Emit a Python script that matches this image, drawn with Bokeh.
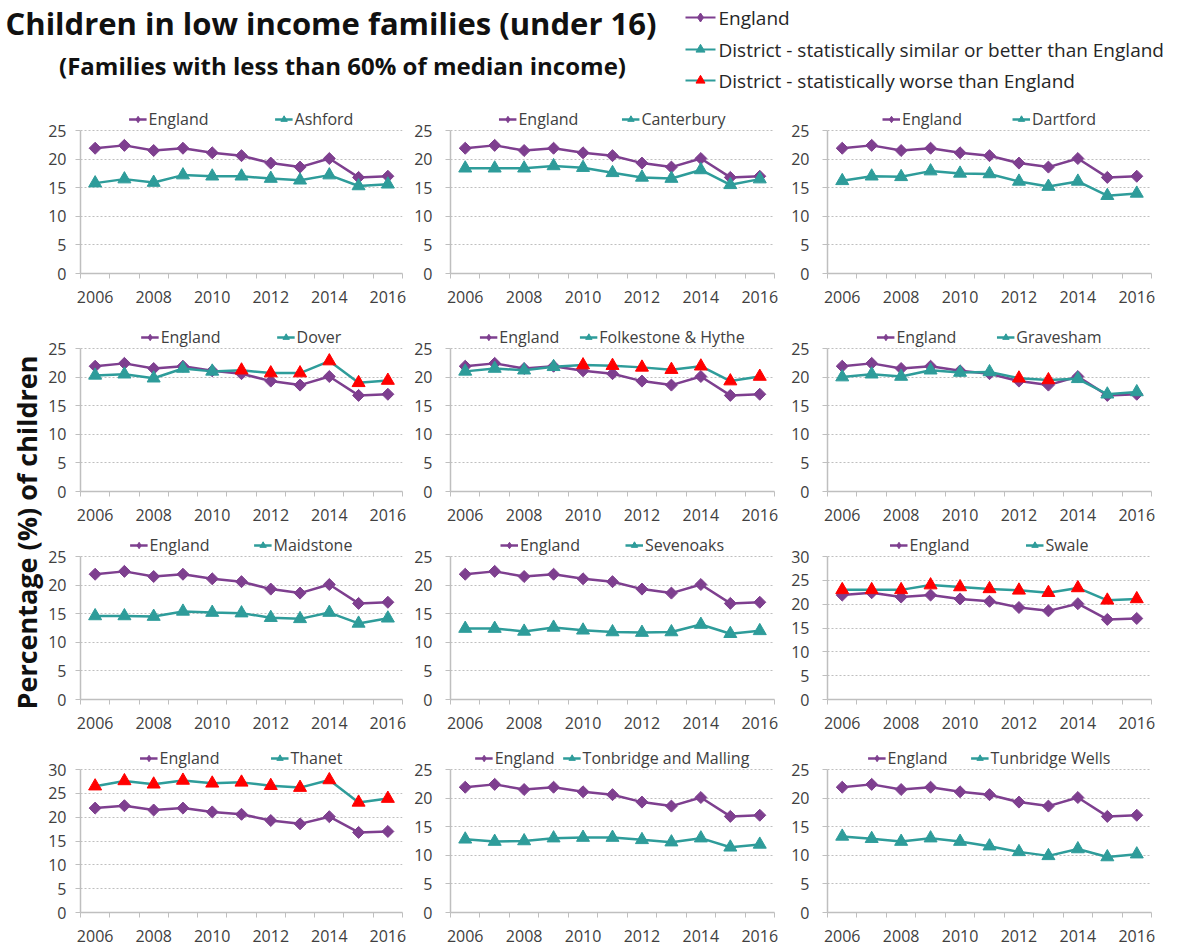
import numpy as np
from bokeh.plotting import figure
from bokeh.models import Range1d, FixedTicker, Legend, LegendItem
from bokeh.layouts import column, row
from bokeh.embed import file_html
from bokeh.resources import INLINE
from bokeh.core.properties import value

# ---------------- data ----------------
years = [2006, 2007, 2008, 2009, 2010, 2011, 2012, 2013, 2014, 2015, 2016]
year_labels = [2006, 2008, 2010, 2012, 2014, 2016]

england = [21.9, 22.4, 21.5, 21.9, 21.1, 20.6, 19.3, 18.6, 20.1, 16.8, 17.0]

districts = ["Ashford", "Canterbury", "Dartford",
             "Dover", "Folkestone & Hythe", "Gravesham",
             "Maidstone", "Sevenoaks", "Swale",
             "Thanet", "Tonbridge and Malling", "Tunbridge Wells"]

ashford = [15.8, 16.5, 15.9, 17.2, 17.0, 17.0, 16.6, 16.3, 17.2, 15.3, 15.6]
canterbury = [18.4, 18.4, 18.4, 18.8, 18.5, 17.6, 16.8, 16.6, 18.1, 15.5, 16.5]
dartford = [16.2, 17.0, 16.9, 17.9, 17.5, 17.4, 16.1, 15.2, 16.1, 13.6, 14.0]
dover = [20.3, 20.5, 19.8, 21.5, 21.0, 21.2, 20.7, 20.7, 22.8, 19.0, 19.4]
folkestone = [21.0, 21.5, 21.2, 21.8, 22.1, 22.0, 21.7, 21.3, 21.9, 19.3, 20.1]
gravesham = [20.0, 20.5, 20.1, 21.2, 20.8, 20.9, 19.8, 19.5, 19.7, 17.0, 17.4]
maidstone = [14.6, 14.6, 14.5, 15.4, 15.2, 15.1, 14.3, 14.1, 15.2, 13.3, 14.2]
sevenoaks = [12.4, 12.4, 11.9, 12.6, 12.1, 11.8, 11.7, 11.8, 13.1, 11.5, 12.0]
swale = [23.0, 23.0, 23.0, 24.0, 23.6, 23.2, 22.9, 22.4, 23.4, 20.8, 21.1]
thanet = [26.5, 27.6, 26.9, 27.7, 27.1, 27.3, 26.6, 26.2, 27.8, 23.1, 23.9]
tonbridge = [12.8, 12.4, 12.5, 13.0, 13.1, 13.1, 12.7, 12.3, 13.0, 11.4, 11.9]
tunbridge_wells = [13.3, 12.9, 12.4, 13.0, 12.4, 11.6, 10.6, 9.9, 11.1, 9.7, 10.2]

# 1 = statistically worse than England
ashford_worse = [0, 0, 0, 0, 0, 0, 0, 0, 0, 0, 0]
canterbury_worse = [0, 0, 0, 0, 0, 0, 0, 0, 0, 0, 0]
dartford_worse = [0, 0, 0, 0, 0, 0, 0, 0, 0, 0, 0]
dover_worse = [0, 0, 0, 0, 0, 1, 1, 1, 1, 1, 1]
folkestone_worse = [0, 0, 0, 0, 1, 1, 1, 1, 1, 1, 1]
gravesham_worse = [0, 0, 0, 0, 0, 0, 1, 1, 0, 0, 0]
maidstone_worse = [0, 0, 0, 0, 0, 0, 0, 0, 0, 0, 0]
sevenoaks_worse = [0, 0, 0, 0, 0, 0, 0, 0, 0, 0, 0]
swale_worse = [1, 1, 1, 1, 1, 1, 1, 1, 1, 1, 1]
thanet_worse = [1, 1, 1, 1, 1, 1, 1, 1, 1, 1, 1]
tonbridge_worse = [0, 0, 0, 0, 0, 0, 0, 0, 0, 0, 0]
tunbridge_wells_worse = [0, 0, 0, 0, 0, 0, 0, 0, 0, 0, 0]

district_values = [ashford, canterbury, dartford, dover, folkestone, gravesham,
                   maidstone, sevenoaks, swale, thanet, tonbridge, tunbridge_wells]
district_worse = [ashford_worse, canterbury_worse, dartford_worse, dover_worse,
                  folkestone_worse, gravesham_worse, maidstone_worse, sevenoaks_worse,
                  swale_worse, thanet_worse, tonbridge_worse, tunbridge_wells_worse]
y_max = [25, 25, 25, 25, 25, 25, 25, 25, 30, 30, 25, 25]

title = "Children in low income families (under 16)"
subtitle = "(Families with less than 60% of median income)"
y_title = "Percentage (%) of children"
legend_labels = ["England",
                 "District - statistically similar or better than England",
                 "District - statistically worse than England"]

# ---------------- style ----------------
FONT = "Open Sans"
PURPLE = "#7E3F8F"
TEAL = "#2E9C9A"
RED = "#FF0000"
AXIS = "#BFBFBF"
GRID = "#BFBFBF"
TXT = "#404040"

FW, FH = 324, 143
EXT = 24                      # room above the top gridline for the panel legend
YLAB_W = 45
COL_L = [33, 43, 48]
COL_R = [5, 5, 5]
COL_STANDOFF = [9, 13, 13]
ROW_T = [34, 41, 31, 36]      # figure top -> top gridline
ROW_B = [34, 34, 34, 33]
LEG_SPACING = [66, 43, 50, 56, 20, 40, 44, 45, 56, 51, 8, 23]
HEADER_H = 96
TOTAL_W = 1170


def make_panel(i):
    c, r = i % 3, i // 3
    L, R, T, B = COL_L[c], COL_R[c], ROW_T[r] - EXT, ROW_B[r]
    ymax = y_max[i]
    p = figure(width=L + FW + R, height=T + FH + EXT + B,
               x_range=Range1d(2005.5, 2016.5),
               y_range=Range1d(0, ymax * (FH + EXT) / FH),
               output_backend="svg", toolbar_location=None,
               min_border_left=L, min_border_right=R,
               min_border_top=T, min_border_bottom=B)
    p.outline_line_color = None
    p.background_fill_color = "white"
    p.border_fill_color = "white"
    p.xgrid.visible = False
    p.ygrid.grid_line_color = GRID
    p.ygrid.grid_line_dash = "2 2"
    p.ygrid.grid_line_width = 1

    p.xaxis.ticker = FixedTicker(ticks=year_labels,
                                 minor_ticks=[y - 0.5 for y in years] + [years[-1] + 0.5])
    p.xaxis.major_tick_line_color = None
    p.xaxis.major_tick_out = 0
    p.xaxis.major_tick_in = 0
    p.xaxis.minor_tick_out = 5
    p.xaxis.minor_tick_in = 0
    p.xaxis.minor_tick_line_color = AXIS
    p.xaxis.major_label_standoff = 12

    p.yaxis.ticker = FixedTicker(ticks=list(range(0, ymax + 1, 5)))
    p.yaxis.bounds = (0, ymax)
    p.yaxis.minor_tick_line_color = None
    p.yaxis.major_tick_out = 5
    p.yaxis.major_tick_in = 0
    p.yaxis.major_tick_line_color = AXIS
    p.yaxis.major_label_standoff = COL_STANDOFF[c]

    for ax in (p.xaxis[0], p.yaxis[0]):
        ax.axis_line_color = AXIS
        ax.axis_line_width = 1.5
        ax.major_label_text_font = FONT
        ax.major_label_text_font_size = "16px"
        ax.major_label_text_color = TXT

    vals = district_values[i]
    worse = district_worse[i]

    le = p.line(years, england, line_color=PURPLE, line_width=2.5)
    p.scatter(years, england, marker="square", angle=np.pi / 4, size=8.5,
              fill_color=PURPLE, line_color=PURPLE)
    leg_dia = p.scatter([years[0]], [england[0]], marker="diamond", size=9,
                        fill_color=PURPLE, line_color=PURPLE, visible=False)

    ld = p.line(years, vals, line_color=TEAL, line_width=2.5)
    tx = [y for y, w in zip(years, worse) if not w]
    ty = [v for v, w in zip(vals, worse) if not w]
    rx = [y for y, w in zip(years, worse) if w]
    ry = [v for v, w in zip(vals, worse) if w]
    p.scatter(tx, ty, marker="triangle", size=13, fill_color=TEAL, line_color=TEAL)
    p.scatter(rx, ry, marker="triangle", size=13, fill_color=RED, line_color=RED)
    leg_tri = p.scatter([years[0]], [vals[0]], marker="triangle", size=9,
                        fill_color=TEAL, line_color=TEAL, visible=False)

    legend = Legend(items=[LegendItem(label="England", renderers=[le, leg_dia]),
                           LegendItem(label=districts[i], renderers=[ld, leg_tri])],
                    orientation="horizontal", location="top_center",
                    label_text_font=FONT, label_text_font_size="16px",
                    label_text_color=TXT, glyph_width=18, glyph_height=16,
                    label_height=18, label_standoff=2, spacing=LEG_SPACING[i],
                    padding=0, margin=2, border_line_color=None,
                    background_fill_alpha=0)
    p.add_layout(legend)
    return p


# ---------------- header ----------------
hdr = figure(width=TOTAL_W, height=HEADER_H, x_range=Range1d(0, TOTAL_W),
             y_range=Range1d(HEADER_H, 0), output_backend="svg", toolbar_location=None,
             min_border=0)
hdr.axis.visible = False
hdr.grid.visible = False
hdr.outline_line_color = None

hdr.text(x=[5], y=[22], text=[title], text_font=value(FONT), text_font_style="bold",
         text_font_size="31px", text_baseline="middle", text_align="left", text_color="#111111")
hdr.text(x=[342], y=[65], text=[subtitle], text_font=value(FONT), text_font_style="bold",
         text_font_size="24px", text_baseline="middle", text_align="center", text_color="#111111")

leg_y = [17, 49, 80]
line_cols = [PURPLE, TEAL, TEAL]
mark_cols = [PURPLE, TEAL, RED]
hdr.segment(x0=[685] * 3, x1=[715] * 3, y0=leg_y, y1=leg_y, line_color=line_cols, line_width=2)
hdr.scatter([700], [leg_y[0]], marker="diamond", size=9, fill_color=PURPLE, line_color=PURPLE)
hdr.scatter([700, 700], leg_y[1:], marker="triangle", size=9, fill_color=mark_cols[1:],
            line_color=mark_cols[1:])
hdr.text(x=[718] * 3, y=leg_y, text=legend_labels, text_font=value(FONT),
         text_font_size="19px", text_baseline="middle", text_align="left", text_color="#262626")

# ---------------- y label ----------------
rows_h = sum(t + FH + b for t, b in zip(ROW_T, ROW_B))
ylab = figure(width=YLAB_W, height=rows_h, x_range=Range1d(0, YLAB_W), y_range=Range1d(0, rows_h),
              output_backend="svg", toolbar_location=None, min_border=0)
ylab.axis.visible = False
ylab.grid.visible = False
ylab.outline_line_color = None
ylab.text(x=[26], y=[rows_h - (532 - HEADER_H)], text=[y_title], angle=np.pi / 2,
          text_font=value(FONT), text_font_style="bold", text_font_size="27px",
          text_line_height=1.0, text_baseline="middle", text_align="center",
          text_color="#111111")

panels = [make_panel(i) for i in range(12)]
grid = column(*[row(*panels[r * 3:(r + 1) * 3]) for r in range(4)])
layout = column(hdr, row(ylab, grid))

open("out.html", "w").write(file_html(layout, INLINE))
